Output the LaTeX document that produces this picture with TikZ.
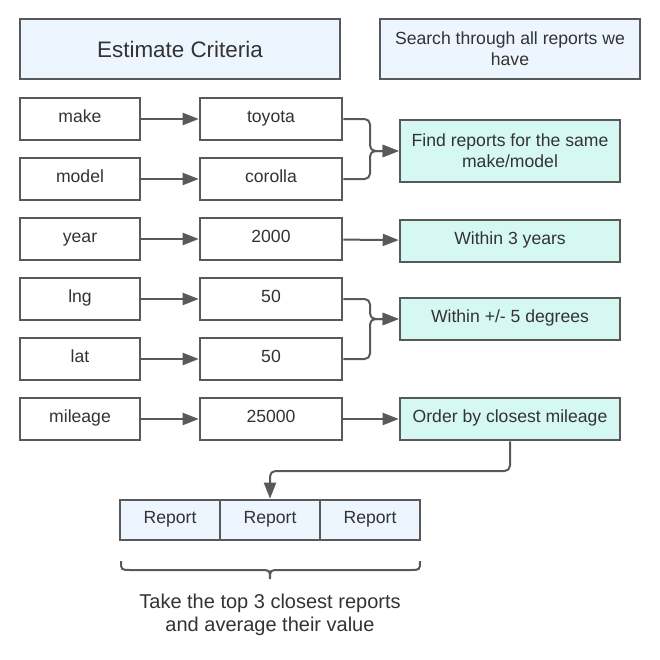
\documentclass[tikz,border=0pt]{standalone}
\usepackage{fontspec}
\setmainfont{Liberation Sans}
\usetikzlibrary{arrows.meta}

\definecolor{edge}{HTML}{595959}
\definecolor{ink}{HTML}{333333}
\definecolor{paleblue}{HTML}{EDF5FF}
\definecolor{paleteal}{HTML}{D6F8F3}

\begin{document}
\begin{tikzpicture}[x=0.75pt, y=-0.75pt, font=\fontsize{13.2}{16}\selectfont, text=ink]
\tikzstyle{box}=[rectangle, draw=edge, line width=1.9pt, fill=white, inner sep=2pt, align=center]
\tikzstyle{oneline}=[text height=0.75em, text depth=0.26em]
\tikzstyle{keybox}=[box, oneline, minimum width=90pt, minimum height=31.5pt]
\tikzstyle{valbox}=[box, oneline, minimum width=106.5pt, minimum height=31.5pt]
\tikzstyle{rule}=[box, fill=paleteal, minimum width=165pt, minimum height=31.5pt]
\tikzstyle{report}=[box, oneline, fill=paleblue, minimum width=75pt, minimum height=30pt]
\tikzstyle{link}=[draw=edge, line width=1.5pt, rounded corners=4pt, -{Triangle[length=12pt, width=9pt]}]

\useasboundingbox (0,0) rectangle (660,660);

\node[box, fill=paleblue, minimum width=240pt, minimum height=45pt, font=\fontsize{16.8}{20}\selectfont] (title) at (180,49) {Estimate Criteria};
\node[box, fill=paleblue, minimum width=195pt, minimum height=45pt] (search) at (510,49) {Search through all reports we\\have};

\foreach \k/\v/\y [count=\i] in {make/toyota/119, model/corolla/179, year/2000/239, lng/50/299, lat/50/359, mileage/25000/419} {
\node[keybox] (key\i) at (80,\y) {\k};
\node[valbox] (val\i) at (271,\y) {\v};
\draw[link] (key\i) -- (val\i);
}

\node[rule, minimum height=46.5pt] (same) at (510,151) {Find reports for the same\\make/model};
\node[rule, oneline] (years) at (510,241) {Within 3 years};
\node[rule, oneline] (degrees) at (510,319) {Within +/- 5 degrees};
\node[rule, oneline] (closest) at (510,419) {Order by closest mileage};

\coordinate (join1) at (370,151);
\coordinate (join2) at (370,319);
\draw[link] (val1.east) -| (join1) -- (same.west);
\draw[link] (val2.east) -| (join1) -- (same.west);
\draw[link] (val3) -- (years);
\draw[link] (val4.east) -| (join2) -- (degrees.west);
\draw[link] (val5.east) -| (join2) -- (degrees.west);
\draw[link] (val6) -- (closest);

\foreach \x [count=\i] in {170,270,370} {
\node[report] (rep\i) at (\x,520) {Report};
}
\coordinate (bend) at (270,471);
\draw[link] (closest.south) |- (bend) -- (rep2.north);

% brace under the reports
\draw[edge, line width=1.5pt] (121,561) .. controls (121,570) .. (131,570) -- (260,570)
  .. controls (270,570) .. (270,579) .. controls (270,570) .. (280,570) -- (410,570)
  .. controls (420,570) .. (420,561);

\node[align=center, font=\fontsize{15}{17.3}\selectfont] (note) at (270,615) {Take the top 3 closest reports\\and average their value};

\end{tikzpicture}
\end{document}
